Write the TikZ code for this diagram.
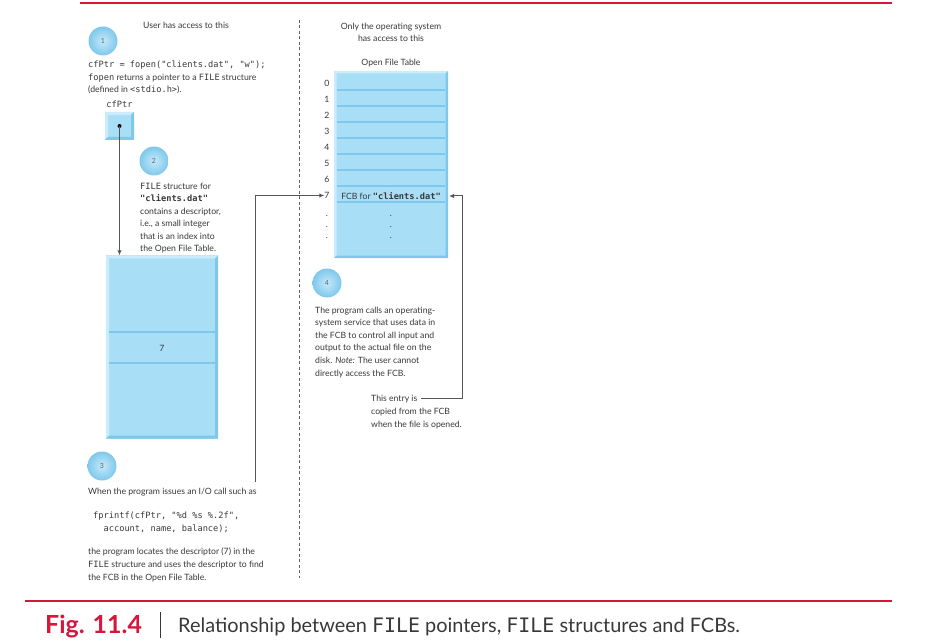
\documentclass[tikz,border=0pt]{standalone}
\usepackage{fontspec}
\setmainfont{Lato}
\newfontfamily\codefont{DejaVu Sans Mono}[Scale=1.0]
\usetikzlibrary{positioning}
\usetikzlibrary{arrows.meta}
\definecolor{boxfill}{HTML}{A9DEF7}
\definecolor{boxlite}{HTML}{CBECFB}
\definecolor{boxdark}{HTML}{7FC8EB}
\definecolor{figred}{HTML}{D5173B}
\definecolor{ink}{HTML}{383838}
\newcommand{\code}[1]{{\codefont #1}}
\tikzset{
  % light blue panel with bevelled edges
  bevel/.style={
    fill=boxfill,
    inner sep=0,
    path picture={
      \fill[boxlite] (path picture bounding box.north west)
        -- (path picture bounding box.north east)
        -- ([shift={(-#1,-#1)}]path picture bounding box.north east)
        -- ([shift={(#1,-#1)}]path picture bounding box.north west) -- cycle;
      \fill[boxlite] (path picture bounding box.north west)
        -- ([shift={(#1,-#1)}]path picture bounding box.north west)
        -- ([shift={(#1,#1)}]path picture bounding box.south west)
        -- (path picture bounding box.south west) -- cycle;
      \fill[boxdark] (path picture bounding box.north east)
        -- (path picture bounding box.south east)
        -- ([shift={(-#1,#1)}]path picture bounding box.south east)
        -- ([shift={(-#1,-#1)}]path picture bounding box.north east) -- cycle;
      \fill[boxdark] (path picture bounding box.south west)
        -- (path picture bounding box.south east)
        -- ([shift={(-#1,#1)}]path picture bounding box.south east)
        -- ([shift={(#1,#1)}]path picture bounding box.south west) -- cycle;
    }
  },
  bevel/.default = 3bp,
  % numbered marker for each step
  marker/.style = {
    circle,
    minimum size = 29bp,
    inner sep = 0,
    inner color = boxlite!80!boxfill,
    outer color = boxdark,
    text = ink!80,
    font = \fontsize{7}{7}\selectfont
  },
  % text blocks are placed by the baseline of their last line
  note/.style = {
    align = left,
    inner sep = 0,
    anchor = base west,
    text = ink,
    font = \fontsize{8.7}{12.6}\selectfont
  },
  head/.style = {
    note,
    align = center,
    anchor = base
  },
  rowlbl/.style = {
    inner sep = 0,
    text = ink,
    font = \fontsize{8.7}{10}\selectfont
  },
  divider/.style = {
    draw = boxdark,
    line width = 1.2bp
  },
  ptr/.style = {
    draw = ink!85,
    line width = 1bp,
    -{Latex[length=5bp,width=4.5bp]}
  },
  rule/.style = {
    draw = figred,
    line width = 1.3bp
  },
  node distance = 4bp
}
\begin{document}
\begin{tikzpicture}[x=1bp,y=-1bp]
  \useasboundingbox (0,0) rectangle (932,640);

  \draw[rule] (80,3) -- (892,3);
  \draw[rule] (25,601) -- (892,601);
  \draw[ink!80, dashed, dash pattern=on 3bp off 2.5bp] (299,20) -- (299,578);

  % user side
  \node[head] (user) at (186,29) {User has access to this};
  \node[marker] (m1) at (103,41) {1};
  \node[note] (open) at (88,93) {\code{cfPtr = fopen("clients.dat", "w");}\\
    \code{fopen} returns a pointer to a \code{FILE} structure\\
    (defined in \code{<stdio.h>}).};
  \node[bevel, minimum width=29bp, minimum height=28bp] (ptrbox) at (119.5,126) {};
  \node[rowlbl, font=\codefont\fontsize{8.7}{10}\selectfont] (ptrname) [above=of ptrbox] {cfPtr};
  \fill[black] (ptrbox.center) circle (2bp);
  \node[marker] (m2) at (154,161) {2};
  \node[note] (filenote) at (140,252) {\code{FILE} structure for\\
    \code{\bfseries"clients.dat"}\\
    contains a descriptor,\\
    i.e., a small integer\\
    that is an index into\\
    the Open File Table.};
  \node[bevel, minimum width=112bp, minimum height=183bp] (filebox) at (162,347) {};
  \draw[divider] (109,332) -- (215,332);
  \draw[divider] (109,363) -- (215,363);
  \node[rowlbl] (desc) at (162,348) {7};
  \draw[ptr] (ptrbox.center) -- (ptrbox.center |- filebox.north);

  \node[marker] (m3) at (102,466) {3};
  \node[note] (iocall) at (88,494) {When the program issues an I/O call such as};
  \node[note] (fpf) at (93,531) {\code{fprintf(cfPtr, "\%d \%s \%.2f",}\\
    \code{~~account, name, balance);}};
  \node[note] (locate) at (88,580) {the program locates the descriptor (7) in the\\
    \code{FILE} structure and uses the descriptor to find\\
    the FCB in the Open File Table.};

  % system side
  \node[head] (sys) at (391,42) {Only the operating system\\has access to this};
  \node[head] (oft) at (391,66) {Open File Table};
  \node[bevel=2.5bp, minimum width=114bp, minimum height=187bp] (table) at (391,164.5) {};
  \foreach \yy in {90,106,...,202}
    \draw[divider] (337,\yy) -- (445,\yy);
  \foreach \r in {0,...,7}
    \node[rowlbl] (lbl\r) at (327,83.5+16*\r) {\r};
  \node[rowlbl] (fcb7) at (391,196) {FCB for \code{\bfseries"clients.dat"}};
  \foreach \yy [count=\i] in {216,227,238} {
    \node[rowlbl] (ldot\i) at (327,\yy) {.};
    \node[rowlbl] (cdot\i) at (391,\yy) {.};
  }
  \coordinate (tab7) at (449,196);

  \node[marker] (m4) at (327,283) {4};
  \node[note] (osnote) at (315,376) {The program calls an operating-\\
    system service that uses data in\\
    the FCB to control all input and\\
    output to the actual file on the\\
    disk. \textit{Note:} The user cannot\\
    directly access the FCB.};
  \node[note] (copy) at (371,427) {This entry is\\
    copied from the FCB\\
    when the file is opened.};

  % connectors
  \coordinate (io-start) at (255,482);
  \coordinate (copy-start) at (421,398);
  \coordinate (copy-turn) at (462,398);
  \draw[ptr] (io-start) |- (lbl7);
  \draw[ptr] (copy-start) -- (copy-turn) |- (tab7);

  % caption
  \node[anchor=base west, inner sep=0, text=figred, font=\fontsize{25}{25}\selectfont\bfseries] (figno) at (45,633) {Fig. 11.4};
  \draw[ink, line width=0.8bp] (160,612) -- (160,638);
  \node[anchor=base west, inner sep=0, text=ink, font=\fontsize{20}{20}\selectfont] (figcap) at (178,632) {Relationship between \code{FILE} pointers, \code{FILE} structures and FCBs.};
\end{tikzpicture}
\end{document}
